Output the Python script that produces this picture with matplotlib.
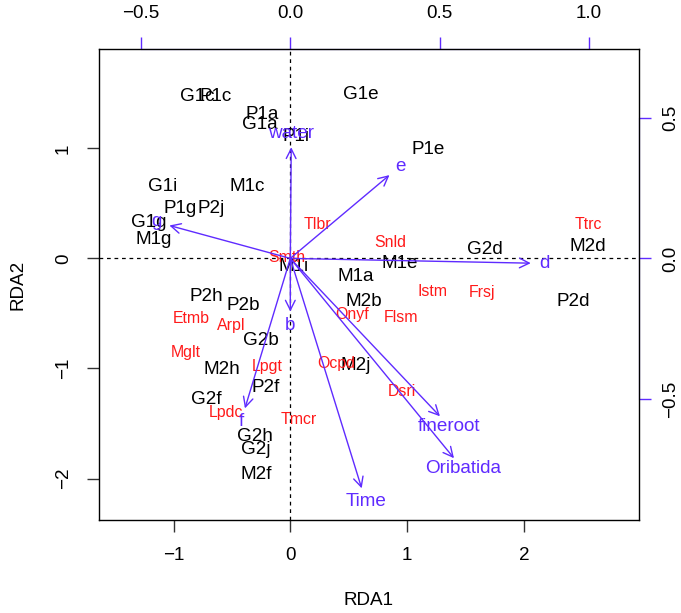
import numpy as np
import matplotlib
matplotlib.use("Agg")
import matplotlib.pyplot as plt
from matplotlib.ticker import FuncFormatter

plt.rcParams['font.family'] = ['Liberation Sans', 'DejaVu Sans']

# --- DATA ---
# site scores (black labels)
site_names = ["G1c", "P1c", "P1a", "G1a", "P1i", "G1e", "P1e", "G1i", "M1c", "P1g",
              "P2j", "G1g", "M1g", "M1i", "M1a", "M1e", "M2b", "M2j", "G2d", "M2d",
              "P2d", "P2h", "P2b", "G2b", "M2h", "P2f", "G2f", "G2h", "G2j", "M2f"]
site_x = [-0.80, -0.64, -0.245, -0.26, 0.05, 0.60, 1.18, -1.09, -0.37, -0.94,
          -0.68, -1.21, -1.17, 0.026, 0.56, 0.94, 0.63, 0.56, 1.67, 2.55,
          2.42, -0.72, -0.40, -0.25, -0.59, -0.21, -0.72, -0.30, -0.30, -0.29]
site_y = [1.468, 1.468, 1.305, 1.214, 1.105, 1.486, 0.993, 0.653, 0.653, 0.45,
          0.45, 0.329, 0.168, -0.075, -0.165, -0.044, -0.393, -0.977, 0.084, 0.107,
          -0.393, -0.347, -0.429, -0.747, -1.005, -1.171, -1.28, -1.614, -1.732, -1.959]

# species scores (red labels)
spec_names = ["Tlbr", "Snld", "Ttrc", "Smth", "Istm", "Frsj", "Onyf", "Flsm",
              "Etmb", "Arpl", "Mglt", "Lpgt", "Ocpd", "Dsri", "Lpdc", "Tmcr"]
spec_x = [0.235, 0.854, 2.551, -0.03, 1.219, 1.639, 0.526, 0.948,
          -0.844, -0.508, -0.893, -0.202, 0.397, 0.954, -0.55, 0.074]
spec_y = [0.305, 0.144, 0.305, 0.01, -0.302, -0.311, -0.514, -0.538,
          -0.55, -0.611, -0.856, -0.983, -0.953, -1.211, -1.398, -1.468]

# biplot scores of the constraints (arrow units, top/right axes)
env_names = ["water", "e", "g", "d", "b", "f", "fineroot", "Oribatida", "Time"]
env_x = [0.003, 0.332, -0.405, 0.805, 0.0, -0.152, 0.501, 0.548, 0.239]
env_y = [0.395, 0.296, 0.117, -0.017, -0.189, -0.533, -0.561, -0.710, -0.817]
MULT = 2.557  # arrow multiplier

xticks = [-1, 0, 1, 2]
yticks = [1, 0, -1, -2]
top_ticks = [-0.5, 0.0, 0.5, 1.0]
right_ticks = [0.5, 0.0, -0.5]

BLUE = "#5F2BFF"
RED = "#FF1A1A"
FS = 13.6

fig = plt.figure(figsize=(6.81, 6.13), dpi=100)
ax = fig.add_axes([0.1454, 0.1517, 0.7925, 0.7679])
ax.set_xlim(-1.638, 2.983)
ax.set_ylim(-2.377, 1.90)

ax.axhline(0, color="black", lw=0.9, ls=(0, (3, 3)), zorder=1)
ax.axvline(0, color="black", lw=0.9, ls=(0, (3, 3)), zorder=1)

for name, x, y in zip(site_names, site_x, site_y):
    ax.text(x, y, name, fontsize=FS, color="black", ha="center", va="center", zorder=3)

for name, x, y in zip(spec_names, spec_x, spec_y):
    ax.text(x, y, name, fontsize=11.4, color=RED, ha="center", va="center", zorder=4)

# arrows
fig.canvas.draw()
for name, bx, by in zip(env_names, env_x, env_y):
    tip = (bx * MULT, by * MULT)
    ax.annotate("", xy=tip, xytext=(0, 0),
                arrowprops=dict(arrowstyle="->,head_length=0.5,head_width=0.25",
                                color=BLUE, lw=1.0, shrinkA=0, shrinkB=0,
                                mutation_scale=14), zorder=5)
    p0 = ax.transData.transform((0, 0))
    p1 = ax.transData.transform(tip)
    d = (p1 - p0) / np.hypot(*(p1 - p0))
    ax.annotate(name, xy=tip, xytext=(10 * d[0], 10 * d[1]), textcoords="offset points",
                fontsize=FS, color=BLUE, ha="center", va="center", zorder=6)

def fmt_int(v, pos):
    return f"{v:.0f}".replace("-", "\u2212")

def fmt_one(v, pos):
    return f"{v:.1f}".replace("-", "\u2212")

ax.set_xticks(xticks)
ax.set_yticks(yticks)
ax.xaxis.set_major_formatter(FuncFormatter(fmt_int))
ax.yaxis.set_major_formatter(FuncFormatter(fmt_int))
ax.tick_params(length=8.6, width=1, color="#333333", labelsize=FS, pad=11)
ax.tick_params(axis="y", labelrotation=90)
for lab in ax.get_yticklabels():
    lab.set_va("center")
for sp in ax.spines.values():
    sp.set_linewidth(1.0)

ax.set_xlabel("RDA1", fontsize=FS)
ax.set_ylabel("RDA2", fontsize=FS)
ax.xaxis.set_label_coords(0.5, -0.170)
ax.xaxis.label.set_va("center")
ax.yaxis.set_label_coords(-0.150, 0.5)
ax.yaxis.label.set_va("center")

# secondary axes for the arrow scale
top = ax.secondary_xaxis("top", functions=(lambda v: v / MULT, lambda v: v * MULT))
top.set_xticks(top_ticks)
top.xaxis.set_major_formatter(FuncFormatter(fmt_one))
top.tick_params(length=8.6, width=1, color=BLUE, labelcolor="black", labelsize=FS, pad=11)
top.spines["top"].set_color(BLUE)
top.spines["top"].set_bounds(top_ticks[0], top_ticks[-1])

right = ax.secondary_yaxis("right", functions=(lambda v: v / MULT, lambda v: v * MULT))
right.set_yticks(right_ticks)
right.yaxis.set_major_formatter(FuncFormatter(fmt_one))
right.tick_params(length=8.6, width=1, color=BLUE, labelcolor="black", labelsize=FS,
                  pad=8, labelrotation=90)
for lab in right.get_yticklabels():
    lab.set_va("center")
right.spines["right"].set_color(BLUE)
right.spines["right"].set_bounds(right_ticks[-1], right_ticks[0])

fig.savefig("out.png", dpi=100)
